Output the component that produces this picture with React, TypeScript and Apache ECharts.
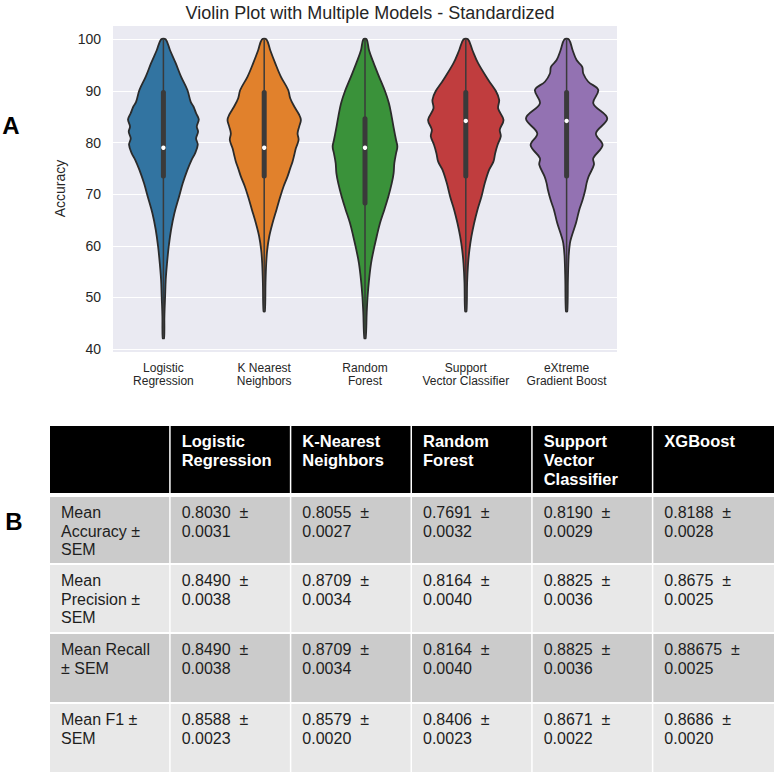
import React, { useEffect, useRef } from "react";
import * as echarts from "echarts";

// ---------- Violin plot data ----------
const models = [
  "Logistic\nRegression",
  "K Nearest\nNeighbors",
  "Random\nForest",
  "Support\nVector Classifier",
  "eXtreme\nGradient Boost",
];
const violinColors = ["#3274A1", "#E1812C", "#3A923A", "#C03D3E", "#9372B2"];

// box stats per model: [min, q1, median, q3, max]
const boxLR = [42.1, 73.5, 79.0, 89.7, 100];
const boxKNN = [47.3, 73.5, 79.0, 89.7, 100];
const boxRF = [42.1, 68.3, 79.0, 84.6, 100];
const boxSVC = [47.3, 73.5, 84.2, 89.7, 100];
const boxXGB = [47.3, 73.5, 84.2, 89.7, 100];

// violin outline: [accuracy, half width as fraction of the category band]
const violinLR: [number, number][] = [
  [100, 0.023], [97.9, 0.066], [95.4, 0.122], [92.8, 0.175], [90.2, 0.238],
  [87.9, 0.271], [87.0, 0.298], [85.7, 0.324], [84.5, 0.351], [83.1, 0.331],
  [82.1, 0.344], [80.8, 0.324], [79.6, 0.341], [77.9, 0.314], [76.7, 0.281],
  [74.7, 0.238], [72.1, 0.192], [69.5, 0.155], [66.3, 0.109], [63.1, 0.076],
  [59.9, 0.053], [56.6, 0.036], [53.4, 0.023], [50.2, 0.017], [46.3, 0.01],
  [42.1, 0.007],
];
const violinKNN: [number, number][] = [
  [100, 0.023], [97.9, 0.06], [95.4, 0.109], [92.8, 0.165], [90.2, 0.238],
  [88.6, 0.258], [87.0, 0.298], [85.4, 0.347], [84.4, 0.364], [83.1, 0.347],
  [81.8, 0.331], [80.5, 0.341], [78.9, 0.314], [77.6, 0.298], [76.3, 0.281],
  [75.0, 0.258], [73.4, 0.231], [71.5, 0.192], [69.5, 0.159], [67.0, 0.122],
  [64.4, 0.083], [61.8, 0.05], [59.2, 0.03], [56.6, 0.02], [52.8, 0.013],
  [47.3, 0.007],
];
const violinRF: [number, number][] = [
  [100, 0.017], [97.9, 0.04], [95.4, 0.086], [92.8, 0.139], [90.0, 0.198],
  [87.6, 0.238], [85.0, 0.265], [82.5, 0.288], [80.5, 0.308], [79.2, 0.321],
  [77.9, 0.308], [76.0, 0.291], [74.1, 0.284], [72.1, 0.265], [69.5, 0.231],
  [67.0, 0.192], [64.4, 0.149], [61.8, 0.116], [59.2, 0.086], [56.6, 0.06],
  [53.4, 0.04], [50.2, 0.026], [47.0, 0.017], [42.1, 0.007],
];
const violinSVC: [number, number][] = [
  [100, 0.023], [97.9, 0.066], [95.4, 0.122], [92.1, 0.225], [90.0, 0.298],
  [88.3, 0.331], [86.6, 0.321], [84.4, 0.374], [82.5, 0.337], [81.2, 0.347],
  [79.5, 0.314], [77.9, 0.291], [76.3, 0.274], [74.7, 0.231], [72.1, 0.188],
  [69.5, 0.155], [67.0, 0.116], [64.4, 0.083], [61.8, 0.056], [59.2, 0.036],
  [56.6, 0.023], [52.8, 0.013], [47.3, 0.007],
];
const violinXGB: [number, number][] = [
  [100, 0.023], [97.9, 0.06], [96.0, 0.099], [94.7, 0.155], [93.4, 0.165],
  [91.8, 0.215], [90.2, 0.314], [87.6, 0.265], [84.7, 0.403], [81.8, 0.291],
  [79.5, 0.357], [77.0, 0.265], [75.7, 0.271], [73.4, 0.218], [72.1, 0.198],
  [70.8, 0.185], [68.9, 0.159], [67.0, 0.126], [64.4, 0.093], [61.8, 0.05],
  [60.5, 0.033], [57.9, 0.02], [53.4, 0.013], [47.3, 0.007],
];

const profiles = [violinLR, violinKNN, violinRF, violinSVC, violinXGB];
const boxes = [boxLR, boxKNN, boxRF, boxSVC, boxXGB];

// ---------- Table data ----------
const tableHeaders = [
  "",
  "Logistic\nRegression",
  "K-Nearest\nNeighbors",
  "Random\nForest",
  "Support\nVector\nClassifier",
  "XGBoost",
];
const rowLabels = [
  "Mean\nAccuracy ±\nSEM",
  "Mean\nPrecision ±\nSEM",
  "Mean Recall\n± SEM",
  "Mean F1 ±\nSEM",
];
const accuracyMean = ["0.8030", "0.8055", "0.7691", "0.8190", "0.8188"];
const accuracySem = ["0.0031", "0.0027", "0.0032", "0.0029", "0.0028"];
const precisionMean = ["0.8490", "0.8709", "0.8164", "0.8825", "0.8675"];
const precisionSem = ["0.0038", "0.0034", "0.0040", "0.0036", "0.0025"];
const recallMean = ["0.8490", "0.8709", "0.8164", "0.8825", "0.88675"];
const recallSem = ["0.0038", "0.0034", "0.0040", "0.0036", "0.0025"];
const f1Mean = ["0.8588", "0.8579", "0.8406", "0.8671", "0.8686"];
const f1Sem = ["0.0023", "0.0020", "0.0023", "0.0022", "0.0020"];

const FONT = '"Liberation Sans", Arial, sans-serif';
const EDGE = "#2b2b2b";
const TEXT = "#262626";

function buildTable(): any[] {
  const els: any[] = [];
  const left = 50;
  const step = 120.67;
  const gap = 1.5;
  const rowTops = [426, 497, 565, 634, 704];
  const rowBottoms = [493, 563, 632, 702, 772];
  const means = [accuracyMean, precisionMean, recallMean, f1Mean];
  const sems = [accuracySem, precisionSem, recallSem, f1Sem];
  const lh = 18.7;
  for (let r = 0; r < 5; r++) {
    for (let c = 0; c < 6; c++) {
      const x = left + c * step;
      const w = c === 5 ? 774 - x : step - gap;
      const fill = r === 0 ? "#000000" : r % 2 === 1 ? "#cbcbcb" : "#e8e8e8";
      els.push({
        type: "rect",
        shape: { x, y: rowTops[r], width: w, height: rowBottoms[r] - rowTops[r] },
        style: { fill },
        silent: true,
      });
      let txt = "";
      if (r === 0) txt = tableHeaders[c];
      else if (c === 0) txt = rowLabels[r - 1];
      else txt = means[r - 1][c - 1] + "  ±\n" + sems[r - 1][c - 1];
      if (!txt) continue;
      els.push({
        type: "text",
        x: x + 11,
        y: rowTops[r] + 15.5 - lh / 2,
        silent: true,
        style: {
          text: txt,
          fill: r === 0 ? "#ffffff" : "#1e1e1e",
          fontSize: r === 0 ? 16.5 : 16,
          fontWeight: r === 0 ? "bold" : "normal",
          fontFamily: FONT,
          lineHeight: lh,
          align: "left",
          verticalAlign: "top",
        },
      });
    }
  }
  return els;
}

export default function App() {
  const ref = useRef<HTMLDivElement>(null);
  useEffect(() => {
    if (!ref.current) return;
    const chart = echarts.init(ref.current, undefined, { renderer: "svg" });
    const option: any = {
      animation: false,
      backgroundColor: "#ffffff",
      title: {
        text: "Violin Plot with Multiple Models - Standardized",
        left: 365,
        top: -1,
        textAlign: "center",
        textStyle: { fontSize: 18, fontWeight: "normal", color: TEXT, fontFamily: FONT },
      },
      grid: {
        left: 113,
        top: 25,
        width: 504,
        height: 327,
        show: true,
        backgroundColor: "#EAEAF2",
        borderWidth: 0,
      },
      xAxis: {
        type: "category",
        data: models,
        boundaryGap: true,
        axisLine: { show: false },
        axisTick: { show: false },
        splitLine: { show: false },
        axisLabel: {
          fontSize: 12,
          lineHeight: 13,
          color: TEXT,
          fontFamily: FONT,
          margin: 9,
          interval: 0,
        },
      },
      yAxis: {
        type: "value",
        min: 39.4,
        max: 102.8,
        name: "Accuracy",
        nameLocation: "middle",
        nameRotate: 90,
        nameGap: 44,
        nameTextStyle: { fontSize: 14, color: TEXT, fontFamily: FONT },
        axisLine: { show: false },
        axisTick: { show: false },
        splitLine: { show: true, lineStyle: { color: "#ffffff", width: 1.2 } },
        axisLabel: {
          fontSize: 14,
          color: TEXT,
          fontFamily: FONT,
          margin: 12,
          showMinLabel: false,
          showMaxLabel: false,
          formatter: (v: number) => (Math.abs(v % 10) < 1e-6 ? String(v) : ""),
        },
      },
      series: [
        {
          type: "custom",
          data: boxes.map((b, i) => [i, b[0], b[1], b[2], b[3], b[4]]),
          encode: { x: 0, y: [1, 2, 3, 4, 5] },
          renderItem: (params: any, api: any) => {
            const i = api.value(0);
            const prof = profiles[i];
            const st = boxes[i];
            const band = api.size([1, 0])[0];
            const cx = api.coord([i, 50])[0];
            const yy = (v: number) => api.coord([i, v])[1];
            const right = prof.map(([v, w]) => [cx + w * band, yy(v)]);
            const leftPts = prof
              .slice()
              .reverse()
              .map(([v, w]) => [cx - w * band, yy(v)]);
            return {
              type: "group",
              children: [
                {
                  type: "polygon",
                  shape: { points: right.concat(leftPts), smooth: 0.35 },
                  style: { fill: violinColors[i], stroke: EDGE, lineWidth: 1.8 },
                },
                {
                  type: "line",
                  shape: { x1: cx, y1: yy(st[0]), x2: cx, y2: yy(st[4]) },
                  style: { stroke: "#3a3a3a", lineWidth: 1.5 },
                },
                {
                  type: "line",
                  shape: { x1: cx, y1: yy(st[1]), x2: cx, y2: yy(st[3]) },
                  style: { stroke: "#3a3a3a", lineWidth: 5, lineCap: "round" },
                },
                {
                  type: "circle",
                  shape: { cx, cy: yy(st[2]), r: 2.2 },
                  style: { fill: "#ffffff" },
                },
              ],
            };
          },
        },
      ],
      graphic: [
        {
          type: "text",
          x: 11,
          y: 125,
          style: {
            text: "A",
            fontSize: 24,
            fontWeight: "bold",
            fontFamily: FONT,
            fill: "#000",
            align: "center",
            verticalAlign: "middle",
          },
        },
        {
          type: "text",
          x: 14,
          y: 521.5,
          style: {
            text: "B",
            fontSize: 24,
            fontWeight: "bold",
            fontFamily: FONT,
            fill: "#000",
            align: "center",
            verticalAlign: "middle",
          },
        },
        ...buildTable(),
      ],
    };
    chart.setOption(option);
    return () => chart.dispose();
  }, []);
  return (
    <div
      ref={ref}
      style={{ position: "absolute", left: 0, top: 0, width: 774, height: 772 }}
    />
  );
}
